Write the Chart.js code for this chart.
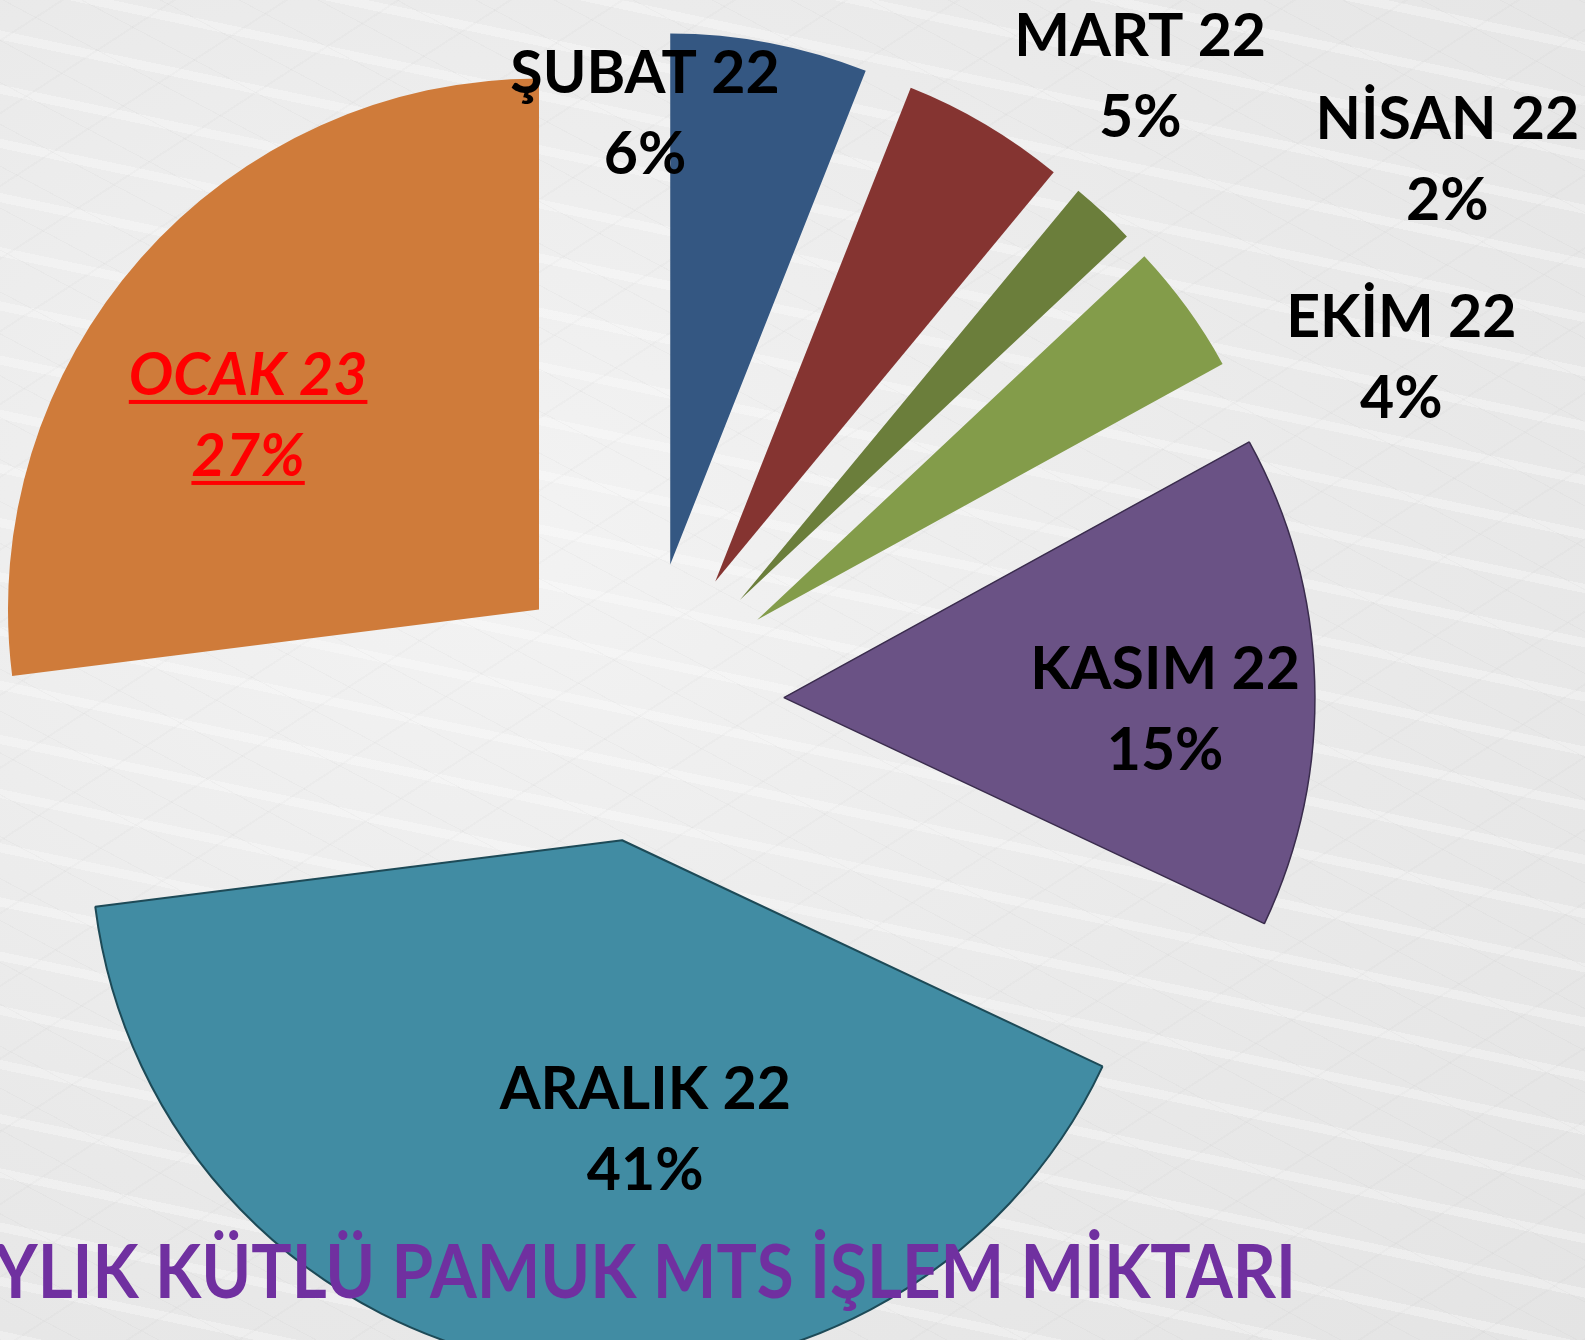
<!DOCTYPE html>
<html lang="tr">
<head>
<meta charset="utf-8">
<title>Aylık Kütlü Pamuk MTS İşlem Miktarı</title>
<script src="https://cdn.jsdelivr.net/npm/chart.js@4.4.1/dist/chart.umd.min.js"></script>
<style>
  html, body { margin: 0; padding: 0; overflow: hidden; }
  body {
    width: 1585px;
    height: 1340px;
    background-color: #ebebeb;
    /* soft marble-like backdrop */
    background-image:
      repeating-linear-gradient(28deg, rgba(0,0,0,0.018) 0 1px, transparent 1px 37px),
      repeating-linear-gradient(-33deg, rgba(0,0,0,0.014) 0 2px, transparent 2px 61px),
      repeating-linear-gradient(12deg, rgba(255,255,255,0.3) 0 9px, transparent 9px 53px),
      radial-gradient(ellipse at 30% 40%, #f3f3f3 0%, #e9e9e9 60%, #e4e4e4 100%);
  }
  #wrap { position: absolute; left: 0; top: 0; width: 1585px; height: 1340px; }
</style>
</head>
<body>
<div id="wrap"><canvas id="mtsChart"></canvas></div>
<script>
// Monthly cotton MTS volume shares (%)
const months = ['ŞUBAT 22', 'MART 22', 'NİSAN 22', 'EKİM 22', 'KASIM 22', 'ARALIK 22', 'OCAK 23'];
const shares = [6, 5, 2, 4, 15, 41, 27];
const sliceColors = ['#345782', '#853431', '#6b7e3b', '#839c4a', '#6a5285', '#418ca3', '#cf7b3a'];
const edgeColors = ['#22395a', '#5a2220', '#4a5a28', '#5c7033', '#3a2c4d', '#1d4a57', '#9a5a2a'];
const edgeWidths = [0, 0, 0, 0, 1.5, 2, 0];

const EXPLODE = 140;      // distance each slice is pulled out from the centre
const PIE_RADIUS = 531;

// where each label block sits: fraction of radius from the slice tip, turn from mid-angle (deg)
const labelPlace = [
  { dist: 0.853, turn: -14 },
  { dist: 1.245, turn: 9.4 },
  { dist: 1.571, turn: 14.8 },
  { dist: 1.311, turn: 13.7 },
  { dist: 0.718, turn: 3.3 },
  { dist: 0.544, turn: -13.6 },
  { dist: 0.66, turn: -7.5 }
];
const highlightIndex = 6;   // current month shown in red italic

// pull slices away from the centre
const explodePlugin = {
  id: 'explode',
  beforeDatasetsDraw(chart) {
    const area = chart.chartArea;
    const cx = (area.left + area.right) / 2;
    const cy = (area.top + area.bottom) / 2;
    chart.getDatasetMeta(0).data.forEach(arc => {
      const mid = (arc.startAngle + arc.endAngle) / 2;
      arc.x = cx + Math.cos(mid) * EXPLODE;
      arc.y = cy + Math.sin(mid) * EXPLODE;
    });
  }
};

// slice labels and the bottom title
const labelPlugin = {
  id: 'sliceLabels',
  afterDatasetsDraw(chart) {
    const ctx = chart.ctx;
    const capH = 43;
    const gap = 81;
    ctx.save();
    ctx.textAlign = 'center';
    ctx.textBaseline = 'alphabetic';
    chart.getDatasetMeta(0).data.forEach((arc, i) => {
      const place = labelPlace[i];
      const ang = (arc.startAngle + arc.endAngle) / 2 + place.turn * Math.PI / 180;
      const x = arc.x + Math.cos(ang) * place.dist * arc.outerRadius;
      const y = arc.y + Math.sin(ang) * place.dist * arc.outerRadius;
      const lines = [months[i], shares[i] + '%'];
      const hot = i === highlightIndex;
      ctx.font = (hot ? 'italic ' : '') + 'bold 59px Lato';
      ctx.fillStyle = hot ? '#ff0000' : '#000000';
      lines.forEach((txt, k) => {
        const base = y + (k === 0 ? -gap / 2 : gap / 2) + capH / 2;
        ctx.fillText(txt, x, base);
        if (hot) {
          const w = ctx.measureText(txt).width;
          ctx.fillRect(x - w / 2, base + 5, w, 4);
        }
      });
    });

    // title along the bottom, running off the left edge
    ctx.font = 'bold 74px Lato';
    ctx.fillStyle = '#7030a0';
    ctx.textAlign = 'right';
    const title = 'AYLIK KÜTLÜ PAMUK MTS İŞLEM MİKTARI';
    const shown = ctx.measureText(title.slice(1)).width;
    const sx = 1302 / shown;
    ctx.translate(1296, 1298);
    ctx.scale(sx, 1);
    ctx.fillText(title, 0, 0);
    ctx.restore();
  }
};

function createChart() {
  const ctx = document.getElementById('mtsChart').getContext('2d');
  new Chart(ctx, {
    type: 'pie',
    data: {
      labels: months,
      datasets: [{
        data: shares,
        backgroundColor: sliceColors,
        borderColor: edgeColors,
        borderWidth: edgeWidths,
        radius: PIE_RADIUS,
        hoverOffset: 0
      }]
    },
    options: {
      responsive: true,
      maintainAspectRatio: false,
      animation: false,
      events: [],
      layout: { padding: { top: 64, right: 297, bottom: 0, left: 0 } },
      plugins: {
        legend: { display: false },
        tooltip: { enabled: false }
      }
    },
    plugins: [explodePlugin, labelPlugin]
  });
}

window.addEventListener('DOMContentLoaded', () => {
  document.fonts.load('bold 60px Lato').then(createChart, createChart);
});
</script>
</body>
</html>
